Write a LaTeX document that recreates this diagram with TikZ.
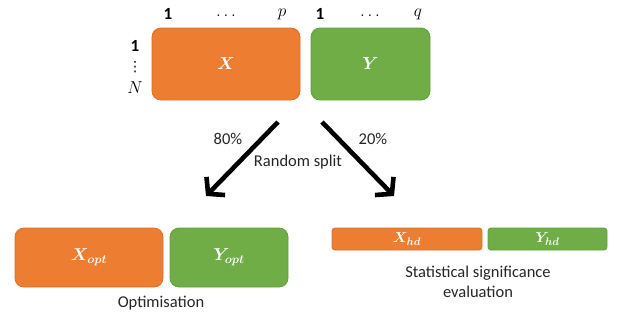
\documentclass[tikz,border=0pt]{standalone}
\usepackage{fontspec}
\setmainfont{Carlito}
\newfontfamily\dotsfont{DejaVu Sans}
\usepackage{amsmath,bm}
\usetikzlibrary{arrows.meta}
\definecolor{boxorange}{HTML}{ED7D31}
\definecolor{boxgreen}{HTML}{70AD47}
\definecolor{boxorangeedge}{HTML}{D9702A}
\definecolor{boxgreenedge}{HTML}{62A03C}
\begin{document}
\begin{tikzpicture}[x=1pt,y=-1pt,
  block/.style={rectangle, rounded corners=9pt, inner sep=0pt, line width=0.8pt,
    text=white, font=\fontsize{17}{20}\selectfont},
  flat/.style={rectangle, rounded corners=3pt, inner sep=0pt, line width=0.8pt,
    text=white, font=\fontsize{15}{18}\selectfont},
  orangebox/.style={fill=boxorange, draw=boxorangeedge},
  greenbox/.style={fill=boxgreen, draw=boxgreenedge},
  idx/.style={font=\fontsize{17}{20}\selectfont, inner sep=0pt},
  caption/.style={font=\fontsize{16.5}{20}\selectfont, align=center, text=black!85},
  pct/.style={font=\fontsize{16.5}{20}\selectfont, text=black!85},
  splitarrow/.style={line width=4.6pt, -{Straight Barb[length=11pt, width=26pt, line width=4.6pt]}}
]
\useasboundingbox (0,0) rectangle (620,322);

% full data set
\node[block, orangebox, minimum width=148pt, minimum height=72pt] (X) at (226,64) {$\bm{X}$};
\node[block, greenbox, minimum width=119pt, minimum height=72pt] (Y) at (370.5,64) {$\bm{Y}$};

% column indices
\node[idx] (xc1) at (168,14) {$\mathbf{1}$};
\node[idx] (xcd) at (226,16) {$\ldots$};
\node[idx] (xcp) at (282,14) {$p$};
\node[idx] (yc1) at (320,14) {$\mathbf{1}$};
\node[idx] (ycd) at (370,16) {$\ldots$};
\node[idx] (ycq) at (418,14) {$q$};

% row indices
\node[idx] (r1) at (135,46) {$\mathbf{1}$};
\node[idx, font=\dotsfont\fontsize{14}{14}\selectfont] (rd) at (135,67) {⋮};
\node[idx] (rN) at (135,88) {$N$};

% split arrows
\coordinate (ls) at (278,122);
\coordinate (le) at (206,196);
\coordinate (rs) at (322,122);
\coordinate (re) at (394,196);
\draw[splitarrow] (ls) -- (le);
\draw[splitarrow] (rs) -- (re);
\node[pct] (p80) at (228,139) {80\%};
\node[pct] (p20) at (373,139) {20\%};
\node[pct] (rsplit) at (298,162) {Random split};

% optimisation subset
\node[block, orangebox, minimum width=148pt, minimum height=59pt] (Xopt) at (89,257.5) {$\bm{X_{opt}}$};
\node[block, greenbox, minimum width=118pt, minimum height=59pt] (Yopt) at (229,257.5) {$\bm{Y_{opt}}$};
\node[caption] (optcap) at (161,303) {Optimisation};

% held-out subset
\node[flat, orangebox, minimum width=150pt, minimum height=22pt] (Xhd) at (407,239) {$\bm{X_{hd}}$};
\node[flat, greenbox, minimum width=119pt, minimum height=22pt] (Yhd) at (547.5,239) {$\bm{Y_{hd}}$};
\node[caption] (hdcap) at (478,282) {Statistical significance\\evaluation};
\end{tikzpicture}
\end{document}
